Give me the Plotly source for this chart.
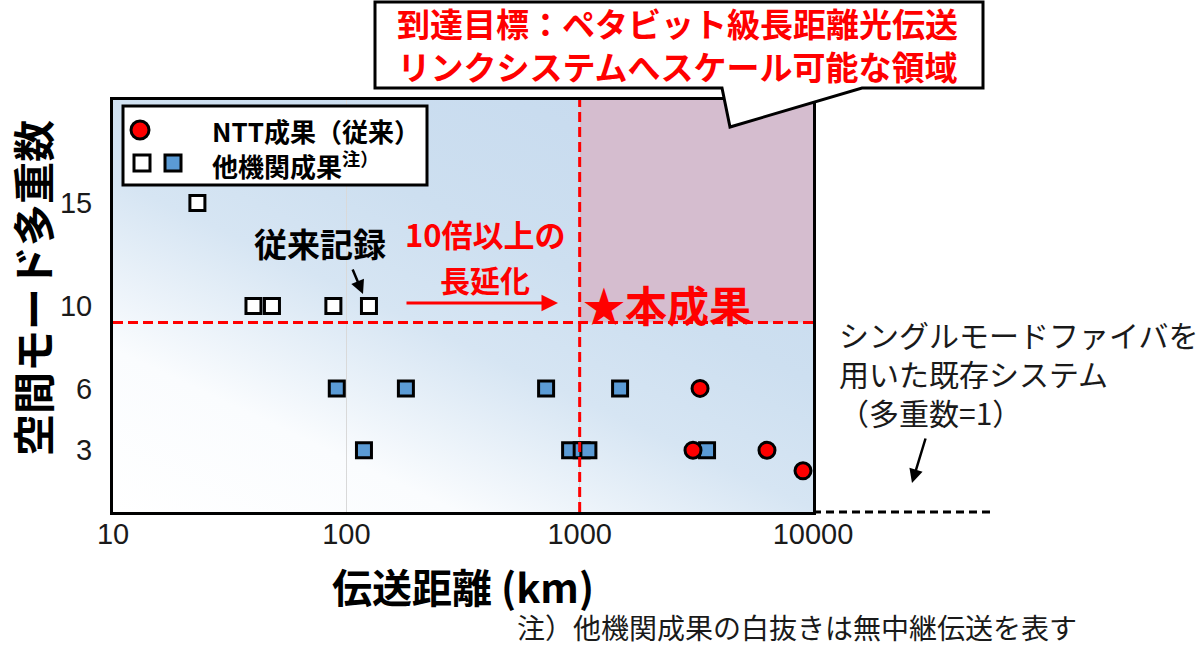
import plotly.graph_objects as go
import urllib.parse

# ---------------- data ----------------
ntt_distance_km = [3280, 3060, 6350, 9060]
ntt_modes = [6, 3, 3, 2]

other_unrepeatered_km = [23, 40, 48, 88, 125]
other_unrepeatered_modes = [15, 10, 10, 10, 10]

other_repeatered_km = [91, 180, 718, 1490, 119, 910, 1020, 1090, 3515]
other_repeatered_modes = [6, 6, 6, 6, 3, 3, 3, 3, 3]

x_tick_vals = [10, 100, 1000, 10000]
x_tick_text = ["10", "100", "1000", "10000"]
y_tick_vals = [3, 6, 10, 15]
y_tick_text = ["3", "6", "10", "15"]

target_distance_km = 1000
target_modes = 9.2
x_range_log = [1, 4]
y_range = [0, 20]

# ---------------- layout geometry ----------------
W, H = 1200, 646
L, R, T, B = 113, 387, 100, 134
PW, PH = W - L - R, H - T - B

def px(x):
    return (x - L) / PW

def py(y):
    return (H - B - y) / PH

CJK = "Noto Sans CJK JP"
RED = "#ff0000"
BLUE = "#5b9bd5"

fig = go.Figure()

fig.add_trace(go.Scatter(
    x=other_unrepeatered_km, y=other_unrepeatered_modes, mode="markers",
    marker=dict(symbol="square", size=15, color="white", line=dict(color="black", width=3)),
    showlegend=False, hoverinfo="x+y"))
fig.add_trace(go.Scatter(
    x=other_repeatered_km, y=other_repeatered_modes, mode="markers",
    marker=dict(symbol="square", size=15, color=BLUE, line=dict(color="black", width=3)),
    showlegend=False, hoverinfo="x+y"))
fig.add_trace(go.Scatter(
    x=ntt_distance_km, y=ntt_modes, mode="markers",
    marker=dict(symbol="circle", size=16, color=RED, line=dict(color="black", width=3)),
    showlegend=False, hoverinfo="x+y"))

# background gradient via inline SVG
svg = ("<svg xmlns='http://www.w3.org/2000/svg' width='700' height='412' viewBox='0 0 700 412' preserveAspectRatio='none'>"
       "<defs><linearGradient id='g' gradientUnits='userSpaceOnUse' x1='0' y1='412' x2='285' y2='-194'>"
       "<stop offset='0' stop-color='#ffffff'/>"
       "<stop offset='0.22' stop-color='#fafcfe'/>"
       "<stop offset='0.45' stop-color='#d6e5f3'/>"
       "<stop offset='0.62' stop-color='#cddff0'/>"
       "<stop offset='1' stop-color='#c5d9ee'/>"
       "</linearGradient></defs><rect width='700' height='412' fill='url(#g)'/></svg>")
fig.add_layout_image(dict(
    source="data:image/svg+xml;charset=utf-8," + urllib.parse.quote(svg),
    xref="paper", yref="paper", x=0, y=1, sizex=1, sizey=1,
    sizing="stretch", layer="below", xanchor="left", yanchor="top"))

shapes = []
# target region
shapes.append(dict(type="rect", xref="x", yref="y", x0=target_distance_km, x1=10 ** x_range_log[1],
                   y0=target_modes, y1=y_range[1], fillcolor="#d5bdcf", line=dict(width=0), layer="below"))
# red dashed lines
shapes.append(dict(type="line", xref="x", yref="y", x0=target_distance_km, x1=target_distance_km,
                   y0=y_range[0], y1=y_range[1], line=dict(color=RED, width=3, dash="10px,5px"), layer="above"))
shapes.append(dict(type="line", xref="x", yref="y", x0=10 ** x_range_log[0], x1=10 ** x_range_log[1],
                   y0=target_modes, y1=target_modes, line=dict(color=RED, width=3, dash="10px,5px"), layer="above"))
# single-mode baseline dashed line outside plot
shapes.append(dict(type="line", xref="paper", yref="paper", x0=px(813), x1=px(990), y0=py(512), y1=py(512),
                   line=dict(color="black", width=3, dash="8px,5px"), layer="above"))
# callout box
cp = [(375, 2), (983, 2), (983, 88), (862, 88), (730, 127), (722, 88), (375, 88)]
path = "M " + " L ".join(f"{px(a):.5f},{py(b):.5f}" for a, b in cp) + " Z"
shapes.append(dict(type="path", xref="paper", yref="paper", path=path, fillcolor="white",
                   line=dict(color="black", width=3), layer="above"))
# legend box and markers
shapes.append(dict(type="rect", xref="paper", yref="paper", x0=px(123), x1=px(427), y0=py(106), y1=py(185),
                   fillcolor="white", line=dict(color="black", width=3), layer="above"))
shapes.append(dict(type="circle", xref="paper", yref="paper", x0=px(131), x1=px(149), y0=py(121), y1=py(139),
                   fillcolor=RED, line=dict(color="black", width=3), layer="above"))
shapes.append(dict(type="rect", xref="paper", yref="paper", x0=px(134), x1=px(150), y0=py(155), y1=py(171),
                   fillcolor="white", line=dict(color="black", width=3), layer="above"))
shapes.append(dict(type="rect", xref="paper", yref="paper", x0=px(165), x1=px(181), y0=py(155), y1=py(171),
                   fillcolor=BLUE, line=dict(color="black", width=3), layer="above"))

annotations = []

def txt(text, x, y, size, color="black", bold=False, xanchor="center", angle=0, align="center"):
    t = f"<b>{text}</b>" if bold else text
    annotations.append(dict(text=t, xref="paper", yref="paper", x=px(x), y=py(y), xanchor=xanchor,
                            yanchor="middle", showarrow=False, textangle=angle, align=align,
                            font=dict(family=CJK, size=size, color=color)))

txt("到達目標：ペタビット級長距離光伝送<br>リンクシステムへスケール可能な領域", 677, 45, 33, RED, True)
txt("NTT成果（従来）", 210, 130, 26, "black", True, "left")
txt("他機関成果<sup>注）</sup>", 210, 164, 26, "black", True, "left")
txt("従来記録", 320, 243, 33, "black", True)
txt("10倍以上の", 485, 233, 31, RED, True)
txt("長延化", 485, 279, 30, RED, True)
txt("★本成果", 667, 303, 42, RED, True)
txt("シングルモードファイバを<br>用いた既存システム<br>（多重数=1）", 837, 373, 30, "#1a1a1a", False,
    "left", 0, "left")
txt("注）他機関成果の白抜きは無中継伝送を表す", 515, 627, 28, "#1a1a1a", False, "left")
txt("伝送距離 (km)", 463, 586, 40, "black", True)
txt("空間モード多重数", 31, 288, 42, "black", True, "center", -90)

# arrows
def arrow(x_head, y_head, x_tail, y_tail, color, width):
    annotations.append(dict(text="", xref="paper", yref="paper", x=px(x_head), y=py(y_head),
                            axref="pixel", ayref="pixel", ax=x_tail - x_head, ay=y_tail - y_head,
                            showarrow=True, arrowhead=2, arrowsize=1.1, arrowwidth=width, arrowcolor=color))

arrow(363, 294, 352, 268, "black", 2.5)
arrow(558, 303, 405, 303, RED, 3)
arrow(912, 483, 926, 437, "black", 2.5)

fig.update_layout(
    width=W, height=H, autosize=False,
    margin=dict(l=L, r=R, t=T, b=B, pad=0),
    paper_bgcolor="white", plot_bgcolor="rgba(0,0,0,0)",
    template="none",
    shapes=shapes, annotations=annotations,
    showlegend=False,
    xaxis=dict(type="log", range=x_range_log, tickvals=x_tick_vals, ticktext=x_tick_text,
               showgrid=True, gridcolor="#d9d9d9", gridwidth=1, zeroline=False,
               showline=True, linecolor="black", linewidth=3, mirror=True,
               ticks="", ticklabelstandoff=-6,
               tickfont=dict(family="Liberation Sans", size=29, color="#1a1a1a")),
    yaxis=dict(range=y_range, tickvals=y_tick_vals, ticktext=y_tick_text,
               showgrid=False, zeroline=False,
               showline=True, linecolor="black", linewidth=3, mirror=True,
               ticks="", ticklabelstandoff=12,
               tickfont=dict(family="Liberation Sans", size=29, color="#1a1a1a")),
)

fig.write_html("out.html", config={"displayModeBar": False},
               post_script="document.body.style.margin='0px';document.body.style.padding='0px';")
